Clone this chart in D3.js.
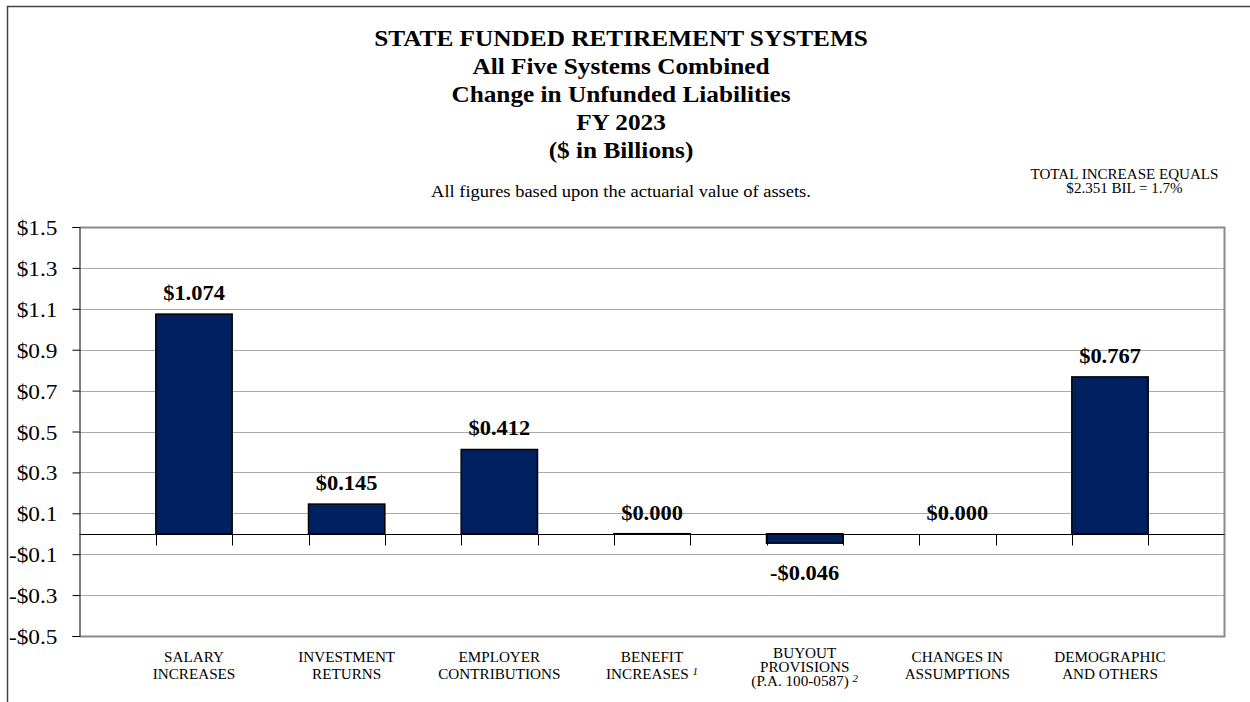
<!DOCTYPE html>
<html>
<head>
<meta charset="utf-8">
<script src="https://cdn.jsdelivr.net/npm/d3@7"></script>
<style>
  html, body { margin: 0; padding: 0; background: #fff; }
  svg { display: block; font-family: "Liberation Serif", "Times New Roman", serif; }
</style>
</head>
<body>
<svg id="chart" width="1250" height="702"></svg>
<script>
// ---- data ----
const categories = ["Salary Increases", "Investment Returns", "Employer Contributions",
  "Benefit Increases", "Buyout Provisions", "Changes in Assumptions", "Demographic and Others"];
const values = [1.074, 0.145, 0.412, 0.0003, -0.046, 0, 0.767];   // $ billions
const categoryLabels = [
  ["SALARY", "INCREASES"],
  ["INVESTMENT", "RETURNS"],
  ["EMPLOYER", "CONTRIBUTIONS"],
  ["BENEFIT", "INCREASES"],
  ["BUYOUT", "PROVISIONS", "(P.A. 100-0587)"],
  ["CHANGES IN", "ASSUMPTIONS"],
  ["DEMOGRAPHIC", "AND OTHERS"]
];
const footnotes = ["", "", "", "1", "2", "", ""];
const yTicks = [1.5, 1.3, 1.1, 0.9, 0.7, 0.5, 0.3, 0.1, -0.1, -0.3, -0.5];
const titleLines = ["STATE FUNDED RETIREMENT SYSTEMS", "All Five Systems Combined",
  "Change in Unfunded Liabilities", "FY 2023", "($ in Billions)"];
const subtitle = "All figures based upon the actuarial value of assets.";
const noteLines = ["TOTAL INCREASE EQUALS", "$2.351 BIL = 1.7%"];

// ---- layout ----
const W = 1250, H = 702;
const plot = { left: 79.5, right: 1224.5, top: 227, bottom: 636 };
const sx = 1.1;               // horizontal text stretch
const barColor = "#002060";

const svg = d3.select("#chart");

function putText(g, x, y, str) {
  return g.append("text")
    .attr("transform", `translate(${x},${y}) scale(${sx},1)`)
    .text(str);
}

// outer frame (top and left edges)
svg.append("path")
  .attr("d", `M7.5,${H + 2}V6.5H${W + 2}`)
  .attr("fill", "none").attr("stroke", "#444").attr("stroke-width", 1.5);

// scales
const x = d3.scaleBand().domain(categories)
  .range([plot.left, plot.right]).paddingInner(0.5).paddingOuter(0.5);
const y = d3.scaleLinear().domain([-0.5, 1.5]).range([plot.bottom, plot.top]);
const snap = v => Math.round(v) + 0.5;

// titles
const tg = svg.append("g").attr("text-anchor", "middle");
titleLines.forEach((t, i) => {
  putText(tg, 621, 46 + 28 * i, t)
    .attr("font-size", 23).attr("font-weight", "bold");
});
putText(tg, 621, 196.5, subtitle).attr("font-size", 16.8);

const ng = svg.append("g").attr("text-anchor", "middle").attr("font-size", 13.7);
noteLines.forEach((t, i) => putText(ng, 1124.5, 179 + 13.5 * i, t));

// gridlines
svg.append("g").selectAll("line")
  .data(yTicks.filter(v => v < 1.5 && v > -0.5))
  .join("line")
  .attr("x1", plot.left).attr("x2", plot.right)
  .attr("y1", d => snap(y(d))).attr("y2", d => snap(y(d)))
  .attr("stroke", "#555").attr("stroke-width", 1).attr("stroke-dasharray", "1 1");

// plot border (top, right, bottom)
svg.append("path")
  .attr("d", `M${plot.left},${snap(y(1.5))}H${plot.right}V${snap(y(-0.5))}H${plot.left}`)
  .attr("fill", "none").attr("stroke", "#8a8a8a").attr("stroke-width", 2);

// y axis
const yAxis = d3.axisLeft(y).tickValues(yTicks).tickSize(7).tickPadding(14)
  .tickFormat(d => (d < 0 ? "-$" : "$") + Math.abs(d).toFixed(1));
const ya = svg.append("g").attr("transform", `translate(${plot.left},0)`).call(yAxis);
ya.select(".domain").attr("stroke", "#000");
ya.selectAll(".tick line").attr("stroke", "#000");
ya.selectAll(".tick text")
  .attr("font-family", "Liberation Serif, Times New Roman, serif")
  .attr("font-size", 21.2).attr("fill", "#000")
  .attr("x", null).attr("dy", null)
  .attr("text-anchor", "end")
  .attr("transform", `translate(-22,7.5) scale(${sx},1)`);

// bars
svg.append("g").selectAll("rect")
  .data(values)
  .join("rect")
  .attr("x", (d, i) => x(categories[i]))
  .attr("width", x.bandwidth())
  .attr("y", d => y(Math.max(0, d)))
  .attr("height", d => Math.abs(y(d) - y(0)))
  .attr("fill", barColor)
  .attr("stroke", d => d === 0 ? "none" : "#000")
  .attr("stroke-width", 1.5);

// zero line with category tick marks
const z = snap(y(0));
svg.append("line").attr("x1", plot.left).attr("x2", plot.right)
  .attr("y1", z).attr("y2", z).attr("stroke", "#000");
const edges = categories.flatMap(c => [x(c), x(c) + x.bandwidth()]);
svg.append("g").selectAll("line").data(edges).join("line")
  .attr("x1", d => snap(d)).attr("x2", d => snap(d))
  .attr("y1", z).attr("y2", z + 11)
  .attr("stroke", "#000");

// value labels
const fmt = v => (v < 0 ? "-$" : "$") + Math.abs(v).toFixed(3);
const lg = svg.append("g").attr("text-anchor", "middle")
  .attr("font-weight", "bold").attr("font-size", 20.4);
values.forEach((v, i) => {
  const cx = x(categories[i]) + x.bandwidth() / 2;
  const yy = v < 0 ? y(v) + 37 : y(v) - 14;
  putText(lg, cx, yy, fmt(v));
});

// category labels
const cg = svg.append("g").attr("text-anchor", "middle").attr("font-size", 13.8);
categoryLabels.forEach((lines, i) => {
  const cx = x(categories[i]) + x.bandwidth() / 2;
  const three = lines.length > 2;
  lines.forEach((ln, j) => {
    const yy = three ? 658 + 14 * j : 661.5 + 17.5 * j;
    const t = putText(cg, cx, yy, ln);
    if (j === lines.length - 1 && footnotes[i]) {
      t.append("tspan").text(" ");
      t.append("tspan").text(footnotes[i])
        .attr("font-style", "italic").attr("font-size", 10).attr("dy", -4);
    }
  });
});
</script>
</body>
</html>
